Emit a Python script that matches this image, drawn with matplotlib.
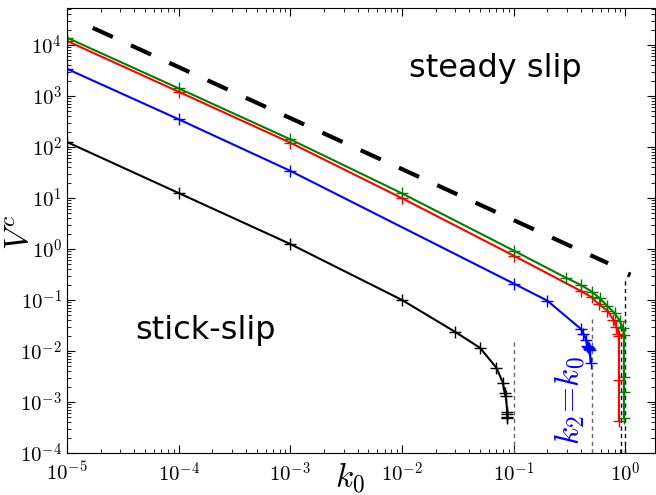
import math
import matplotlib
matplotlib.use("Agg")
import matplotlib.pyplot as plt
from matplotlib.ticker import FuncFormatter, LogLocator

plt.rcParams['mathtext.fontset'] = 'cm'

# critical velocity curves
k_black = [1e-5, 1e-4, 1e-3, 1e-2, 0.03, 0.05, 0.07, 0.08, 0.083, 0.085, 0.0875, 0.0875, 0.0875, 0.088]
V_black = [125, 12.5, 1.25, 0.1, 0.0236, 0.0115, 0.0047, 0.0024, 0.0015, 0.0013, 0.00065, 0.00058, 0.00052, 0.00049]

k_blue = [1e-5, 1e-4, 1e-3, 0.1, 0.2, 0.4, 0.42, 0.445, 0.455, 0.462, 0.47, 0.475, 0.48, 0.488]
V_blue = [3400, 349, 34, 0.21, 0.097, 0.027, 0.022, 0.0164, 0.0125, 0.0118, 0.0112, 0.0108, 0.0105, 0.0058]

k_red = [1e-5, 1e-4, 1e-3, 1e-2, 0.1, 0.4, 0.5, 0.58, 0.69, 0.78, 0.83, 0.86, 0.875, 0.875, 0.875]
V_red = [12000, 1210, 121, 9.9, 0.74, 0.15, 0.113, 0.082, 0.062, 0.041, 0.030, 0.022, 0.020, 0.0027, 0.00043]

k_green = [1e-5, 1e-4, 1e-3, 1e-2, 0.1, 0.293, 0.4, 0.5, 0.59, 0.69, 0.805, 0.89, 0.95, 0.97, 0.97, 0.97, 0.97]
V_green = [13900, 1410, 141, 12.3, 0.93, 0.274, 0.197, 0.146, 0.108, 0.076, 0.055, 0.039, 0.028, 0.0206, 0.0031, 0.0016, 0.00048]

# 1/k guide line
k_guide = [1.7e-5, 0.7]
V_guide = [0.368 / 1.7e-5, 0.368 / 0.7]

# vertical marks: position, top value, colour
k_vert = [0.1, 0.5, 0.905, 1.0]
V_vert_top = [0.0157, 0.042, 0.03, 0.27]
vert_colors = ['0.4', '0.4', 'k', 'k']

fig = plt.figure(figsize=(6.56, 4.95), dpi=100)
ax = fig.add_axes([0.1021, 0.0848, 0.8963, 0.899])

ax.loglog(k_guide, V_guide, color='k', lw=3, dashes=(5.3, 4.8), solid_capstyle='butt')

for kv, vt, c in zip(k_vert, V_vert_top, vert_colors):
    ax.plot([kv, kv], [1e-4, vt], color=c, lw=1, dashes=(3, 2.5))
ax.plot([1.07, 1.09], [0.30, 0.33], color='k', lw=2)

ax.plot(k_black, V_black, 'k-+', lw=1.5, ms=9, mew=1)
ax.plot(k_blue, V_blue, 'b-+', lw=1.5, ms=9, mew=1)
ax.plot(k_red, V_red, 'r-+', lw=1.5, ms=9, mew=1)
ax.plot(k_green, V_green, 'g-+', lw=1.5, ms=9, mew=1)

ax.set_xlim(1e-5, 1.84)
ax.set_ylim(1e-4, 5.3e4)

fmt = FuncFormatter(lambda v, p: r'$10^{%d}$' % round(math.log10(v)))
ax.xaxis.set_major_formatter(fmt)
ax.yaxis.set_major_formatter(fmt)
ax.xaxis.set_major_locator(LogLocator(base=10, numticks=20))
ax.yaxis.set_major_locator(LogLocator(base=10, numticks=20))
ax.tick_params(which='both', direction='in', top=True, right=True, labelsize=15)
ax.tick_params(which='major', length=6)
ax.tick_params(which='minor', length=3)
ax.tick_params(axis='x', pad=6)

fig.text(350 / 656, 1 - 478 / 495, '$k_0$', fontsize=24, ha='center', va='center')
fig.text(20 / 656, 1 - 232 / 495, '$V^c$', fontsize=24, ha='center', va='center', rotation=90)

ax.text(0.728, 0.865, 'steady slip', transform=ax.transAxes, fontsize=23, ha='center', va='center')
ax.text(0.235, 0.276, 'stick-slip', transform=ax.transAxes, fontsize=23, ha='center', va='center')
ax.text(0.855, 0.119, r'$k_2\!=\!k_0$', transform=ax.transAxes, fontsize=24, color='b',
        rotation=90, ha='center', va='center')

fig.savefig('out.png', dpi=100)
